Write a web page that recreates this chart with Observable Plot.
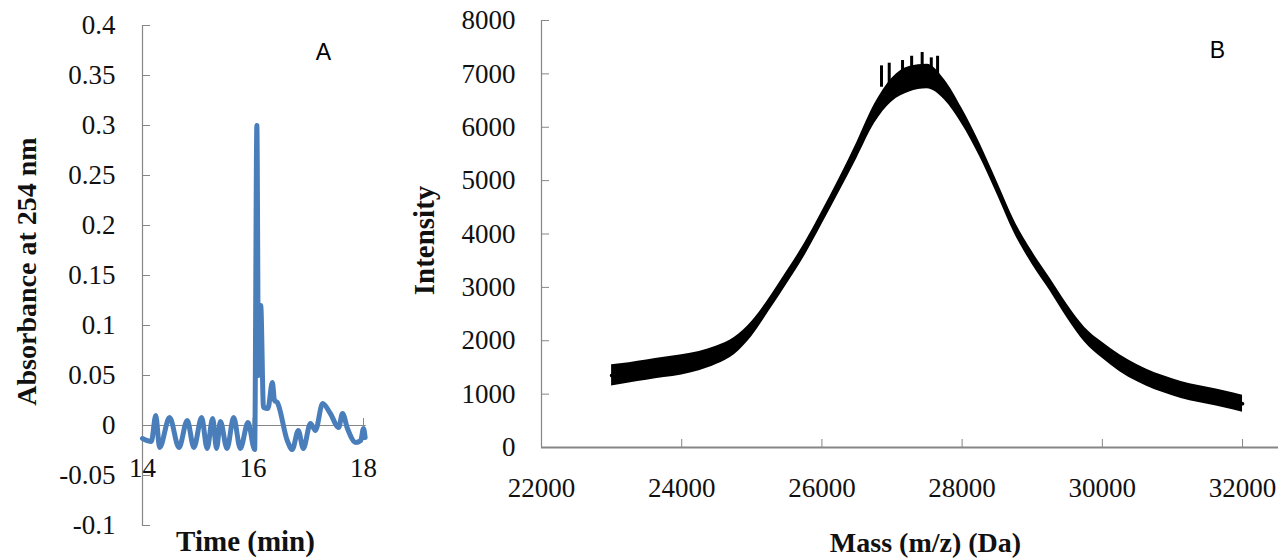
<!DOCTYPE html>
<html><head><meta charset="utf-8">
<script src="https://cdn.jsdelivr.net/npm/d3@7"></script>
<script src="https://cdn.jsdelivr.net/npm/@observablehq/plot@0.6"></script>
<style>
html,body{margin:0;padding:0;background:#fff;}
#wrap{position:relative;width:1278px;height:558px;overflow:hidden;background:#fff;}
#a{position:absolute;left:0;top:0;}
#b{position:absolute;left:400px;top:0;}
</style></head><body><div id="wrap"><div id="a"></div><div id="b"></div></div>
<script>
// Panel A: chromatogram
const timeA = [14.00,14.16,14.24,14.31,14.49,14.66,14.81,14.93,15.07,15.17,15.27,15.34,15.41,15.53,15.65,15.77,15.91,16.03,16.07,16.10,16.14,16.19,16.27,16.35,16.39,16.44,16.62,16.71,16.82,16.91,17.04,17.13,17.26,17.40,17.55,17.62,17.71,17.86,17.95,18.00,18.03];
const absA  = [-0.013,-0.016,0.010,-0.022,0.008,-0.022,0.005,-0.022,0.008,-0.023,0.007,-0.023,0.004,-0.023,0.008,-0.023,0.003,-0.024,0.300,0.050,0.120,0.018,0.017,0.043,0.025,0.023,-0.015,-0.024,-0.005,-0.023,0.002,-0.005,0.022,0.012,-0.002,0.012,-0.003,-0.017,-0.015,-0.003,-0.012];
const xTicksA = [14, 16, 18];
const yTicksA = [-0.1,-0.05,0,0.05,0.1,0.15,0.2,0.25,0.3,0.35,0.4];

// Panel B: mass spectrum
const massB = [23000,23250,23500,23750,24000,24250,24500,24750,25000,25250,25500,25750,26000,26250,26500,26750,27000,27250,27500,27750,28000,28250,28500,28750,29000,29250,29500,29750,30000,30250,30500,30750,31000,31250,31500,31750,32000];
const intensityB = [1350,1400,1450,1500,1550,1620,1730,1900,2220,2680,3180,3700,4300,4920,5570,6250,6700,6900,6950,6700,6200,5580,4860,4120,3550,3060,2550,2110,1820,1580,1390,1240,1130,1035,970,900,820];
const spreadB = [200,190,190,190,190,180,170,160,140,120,120,120,120,130,150,180,220,240,230,190,150,130,120,120,120,120,130,140,150,160,160,160,160,160,160,160,160];
const spikeMassB = [26850,26960,27150,27280,27430,27560,27650];
const spikeTopB = [7150,7200,7250,7330,7400,7300,7330];
const xTicksB = [22000,24000,26000,28000,30000,32000];
const yTicksB = [0,1000,2000,3000,4000,5000,6000,7000,8000];

const serif = "'Liberation Serif','Times New Roman',serif";
const sans = "'Liberation Sans',Arial,sans-serif";
const gray = "#868686";
const blue = "#4A7EBB";
const fmtA = d => String(+d.toFixed(2));
const T = {textAnchor: "middle", lineAnchor: "middle", fill: "#111"};

const dataA = timeA.map((t, i) => ({t, v: absA[i]}));
const plotA = Plot.plot({
  width: 400, height: 558,
  marginLeft: 142, marginRight: 37, marginTop: 25, marginBottom: 33,
  x: {domain: [14, 18], axis: null},
  y: {domain: [-0.1, 0.4], axis: null},
  style: {fontFamily: serif, background: "white", overflow: "visible"},
  marks: [
    Plot.ruleX([14], {stroke: gray, strokeWidth: 1.2}),
    Plot.ruleY([0], {x1: 14, x2: 18.05, stroke: gray, strokeWidth: 1.2}),
    Plot.ruleY(yTicksA, {x1: 14, x2: 14, insetRight: -8, stroke: gray}),
    Plot.ruleX(xTicksA.slice(1), {y1: 0, y2: 0, insetBottom: 7, stroke: gray}),
    Plot.text(yTicksA, {x: 14, y: d => d, text: fmtA, ...T, textAnchor: "end", dx: -27, fontSize: 27, fontFamily: serif}),
    Plot.text(xTicksA, {x: d => d, y: 0, dy: 43, text: d => String(d), ...T, fontSize: 27, fontFamily: serif}),
    Plot.line(dataA, {x: "t", y: "v", stroke: blue, strokeWidth: 5, curve: "monotone-x", strokeLinejoin: "round", strokeLinecap: "round"}),
    Plot.text(["A"], {frameAnchor: "top-left", dx: 323 - 142, dy: 52 - 25, text: d => d, ...T, fill: "#000", fontFamily: sans, fontSize: 23}),
    Plot.text(["Absorbance at 254 nm"], {frameAnchor: "left", dx: 27 - 142, dy: 271 - 275, rotate: -90, text: d => d, ...T, fontFamily: serif, fontWeight: "bold", fontSize: 28}),
    Plot.text(["Time (min)"], {frameAnchor: "bottom", dx: 245 - 252.5, dy: 16, text: d => d, ...T, fontFamily: serif, fontWeight: "bold", fontSize: 29})
  ]
});
document.getElementById("a").append(plotA);

const dataB = massB.map((m, i) => ({m, v: intensityB[i], s: spreadB[i]}));
const spikesB = spikeMassB.map((m, i) => ({m, top: spikeTopB[i]}));
const plotB = Plot.plot({
  width: 878, height: 558,
  marginLeft: 141, marginRight: 0, marginTop: 20, marginBottom: 111,
  x: {domain: [22000, 32513], axis: null},
  y: {domain: [0, 8000], axis: null},
  style: {fontFamily: serif, background: "white", overflow: "visible"},
  marks: [
    Plot.ruleX([22000], {stroke: gray, strokeWidth: 1.2}),
    Plot.ruleY([0], {stroke: gray, strokeWidth: 2}),
    Plot.ruleY(yTicksB.slice(1), {x1: 22000, x2: 22000, insetRight: -8, stroke: gray}),
    Plot.ruleX(xTicksB.slice(1), {y1: 0, y2: 0, insetBottom: 8, stroke: gray}),
    Plot.text(yTicksB, {x: 22000, y: d => d, text: d => String(d), ...T, textAnchor: "end", dx: -26, fontSize: 27, fontFamily: serif}),
    Plot.text(xTicksB, {x: d => d, y: 0, dy: 41, text: d => String(d), ...T, fontSize: 27, fontFamily: serif}),
    Plot.areaY(dataB, {x: "m", y1: d => d.v - d.s, y2: d => d.v + d.s, fill: "black", curve: "monotone-x"}),
    Plot.line(dataB, {x: "m", y: "v", stroke: "black", strokeWidth: 3.5, curve: "monotone-x"}),
    Plot.ruleX(spikesB, {x: "m", y1: d => d.top - 400, y2: "top", stroke: "black", strokeWidth: 3}),
    Plot.text(["B"], {frameAnchor: "top-left", dx: 1217 - 541, dy: 50 - 20, text: d => d, ...T, fill: "#000", fontFamily: sans, fontSize: 23}),
    Plot.text(["Intensity"], {frameAnchor: "left", dx: -117, dy: 240 - 233.5, rotate: -90, text: d => d, ...T, fontFamily: serif, fontWeight: "bold", fontSize: 29}),
    Plot.text(["Mass (m/z) (Da)"], {frameAnchor: "bottom", dx: 525 - 509.5, dy: 96, text: d => d, ...T, fontFamily: serif, fontWeight: "bold", fontSize: 28})
  ]
});
document.getElementById("b").append(plotB);
</script></body></html>
